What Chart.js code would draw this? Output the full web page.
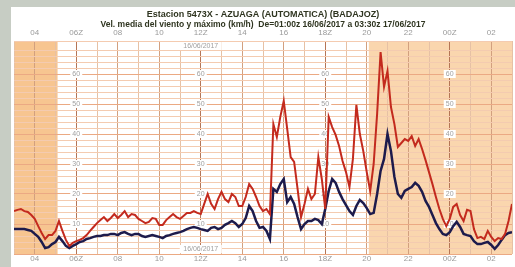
<!DOCTYPE html>
<html>
<head>
<meta charset="utf-8">
<script src="https://cdn.jsdelivr.net/npm/chart.js@4.4.1/dist/chart.umd.min.js"></script>
<style>
  html, body { margin: 0; padding: 0; background: #c7cdc4; overflow: hidden; }
  #wrap { position: absolute; left: 11px; top: 7px; width: 504px; height: 260px; background: #fff; }
</style>
</head>
<body>
<div id="wrap"><canvas id="myChart"></canvas></div>
<script>
// muestras cada 10 min, desde las 03:00z del 16/06/2017
const startHour = 3;
const stepHours = 1 / 6;

// racha maxima (km/h)
const racha = [
    14.3, 14.7, 15, 14.3, 14, 13, 11.7, 9.3, 7, 5,
    6.3, 6.3, 7.7, 11, 7.7, 4.7, 2.7, 3.7, 4.3, 4.7,
    5.3, 6.3, 7.7, 9, 10.3, 11.3, 12.3, 11, 12, 13.3,
    12, 13, 14.3, 12.3, 13.3, 13, 11.7, 11, 10.3, 10.7,
    12, 11.7, 9.7, 9.7, 11.3, 12.3, 13.3, 12.3, 11.7, 12.7,
    13.7, 13.7, 14.3, 13.7, 13.3, 16.7, 20, 16.7, 15, 18.3,
    20.7, 18.3, 17.3, 20, 19, 16, 16, 19, 23.3, 21.7,
    19, 16, 14.3, 15, 13.3, 43.3, 39, 45.7, 51, 41.7,
    32.3, 30.7, 21.7, 12.3, 16.7, 21.7, 18.3, 20, 32.3, 25,
    15, 45.7, 42.3, 39.7, 36, 31, 27.3, 22.3, 31.7, 49.7,
    40, 34.3, 27.3, 21, 30, 46.7, 67.3, 55.7, 61, 49,
    43.3, 35.7, 37, 38.3, 37.7, 39.3, 36, 38.3, 35, 31.3,
    27.3, 23.3, 19, 15, 11.7, 9.3, 11.7, 15.7, 16.7, 13,
    11, 14.7, 14.3, 8.3, 5.3, 5.7, 5, 7.7, 5.7, 4.3,
    5.3, 5, 6.7, 11, 16.7
];

// velocidad media (km/h)
const media = [
    8.3, 8.3, 8.3, 8.3, 8, 7.7, 6.7, 5.7, 4, 2,
    2.3, 3.3, 4, 5.7, 4.3, 2.7, 2, 2.7, 3.3, 4,
    4.3, 5, 5.3, 5.7, 6, 6, 6.3, 6.3, 6.7, 6.7,
    6.3, 7, 7.3, 6.7, 6.3, 6.7, 6.7, 6, 5.7, 6,
    6.3, 6, 5.7, 5.3, 6, 6.3, 6.7, 7, 7.3, 7.7,
    8.3, 8.7, 9, 8.7, 8.3, 8, 7.7, 8.7, 9, 8.3,
    8.7, 9.7, 10.3, 11, 10.3, 9, 10, 12, 16, 14.3,
    11, 8.7, 9, 7.7, 5, 21.7, 20.7, 23.3, 25, 17.3,
    19, 16.7, 12.3, 8.3, 10, 11, 11, 11.7, 11.3, 10,
    15, 21, 25, 23.7, 20.7, 18.3, 16.3, 14.3, 13, 16,
    18, 17, 15.3, 13.3, 13.7, 20, 27.7, 31.7, 40, 34.3,
    25.7, 20, 18.7, 21, 21.7, 22.3, 23.7, 22.7, 20.7, 17.7,
    15.7, 13, 10.3, 8.3, 6.7, 6.3, 7.3, 9.3, 10.7, 9,
    6.7, 6.3, 6, 4.3, 3.3, 3.3, 3.7, 4, 3, 1.7,
    3, 4.7, 6.3, 7, 7.3
];

const hourTicks = [4, 6, 8, 10, 12, 14, 16, 18, 20, 22, 24, 26];
const hourLabels = ['04', '06Z', '08', '10', '12Z', '14', '16', '18Z', '20', '22', '00Z', '02'];
const zHours = [6, 12, 18, 24];
const speedLabels = [10, 20, 30, 40, 50, 60];
const nightSpans = [[3, 5.1, '#f7c590'], [20.1, 27, '#fad6ae']];
const dateHour = 12;
const dateText = '16/06/2017';

const toPoints = arr => arr.map((v, i) => ({ x: startHour + i * stepHours, y: v }));
const hourLabel = v => {
    const k = hourTicks.indexOf(v);
    return k >= 0 ? hourLabels[k] : '';
};

const noche = {
    id: 'noche',
    beforeDraw(chart) {
        const { ctx, chartArea: a, scales: { x } } = chart;
        ctx.save();
        nightSpans.forEach(([h0, h1, col]) => {
            const p0 = Math.max(a.left, x.getPixelForValue(h0));
            const p1 = Math.min(a.right, x.getPixelForValue(h1));
            ctx.fillStyle = col;
            ctx.fillRect(p0, a.top, p1 - p0, a.bottom - a.top);
        });
        ctx.restore();
    }
};

const etiquetas = {
    id: 'etiquetas',
    beforeDatasetsDraw(chart) {
        const { ctx, chartArea: a, scales: { x, y } } = chart;
        ctx.save();
        ctx.font = '7px "Liberation Sans", Arial, sans-serif';
        ctx.textAlign = 'center';
        ctx.textBaseline = 'middle';
        zHours.forEach(h => {
            const px = x.getPixelForValue(h);
            speedLabels.forEach(v => {
                const py = y.getPixelForValue(v);
                ctx.fillStyle = '#fff';
                ctx.fillRect(px - 6, py - 4, 12, 8);
                ctx.fillStyle = '#a0a0a0';
                ctx.fillText(String(v), px, py);
            });
        });
        const px = x.getPixelForValue(dateHour);
        [a.top + 5, a.bottom - 5].forEach(py => {
            ctx.fillStyle = '#fff';
            ctx.fillRect(px - 21, py - 4, 42, 8);
            ctx.fillStyle = '#a0a0a0';
            ctx.fillText(dateText, px, py);
        });
        ctx.restore();
    }
};

const tickFont = { family: '"Liberation Sans", Arial, sans-serif', size: 8 };

new Chart(document.getElementById('myChart'), {
    type: 'line',
    data: {
        datasets: [{
            label: 'Racha',
            data: toPoints(racha),
            borderColor: '#c32a1e',
            borderWidth: 2,
            pointRadius: 0,
            tension: 0
        }, {
            label: 'Media',
            data: toPoints(media),
            borderColor: '#1d1b4c',
            borderWidth: 2.5,
            pointRadius: 0,
            tension: 0
        }]
    },
    options: {
        responsive: true,
        maintainAspectRatio: false,
        animation: false,
        layout: { padding: 0 },
        plugins: {
            legend: { display: false },
            tooltip: { enabled: false },
            title: {
                display: true,
                text: 'Estacion 5473X - AZUAGA (AUTOMATICA) (BADAJOZ)',
                color: '#2f3520',
                font: { family: '"Liberation Sans", Arial, sans-serif', size: 9, weight: 'bold', lineHeight: 1 },
                padding: { top: 3, bottom: 1 }
            },
            subtitle: {
                display: true,
                text: 'Vel. media del viento y máximo (km/h)  De=01:00z 16/06/2017 a 03:30z 17/06/2017',
                color: '#2f3520',
                font: { family: '"Liberation Sans", Arial, sans-serif', size: 8.5, weight: 'bold', lineHeight: 1 },
                padding: { top: 0, bottom: 0 }
            }
        },
        scales: {
            x: {
                type: 'linear',
                position: 'bottom',
                min: 3,
                max: 27,
                border: { display: false },
                afterFit: s => { s.height = 13; },
                grid: {
                    drawTicks: false,
                    color: c => zHours.includes(c.tick.value) ? '#b57556'
                        : (c.tick.value % 2 === 0 ? '#d2a07f' : '#e6c1a5')
                },
                ticks: {
                    stepSize: 1,
                    autoSkip: false,
                    maxRotation: 0,
                    padding: 0,
                    color: '#9a9a9a',
                    font: tickFont,
                    callback: v => hourLabel(v)
                }
            },
            x2: {
                type: 'linear',
                position: 'top',
                min: 3,
                max: 27,
                border: { display: false },
                afterFit: s => { s.height = 12.5; },
                grid: { display: false, drawTicks: false },
                ticks: {
                    stepSize: 1,
                    autoSkip: false,
                    maxRotation: 0,
                    padding: 3,
                    color: '#9a9a9a',
                    font: tickFont,
                    callback: v => hourLabel(v)
                }
            },
            y: {
                min: 0,
                max: 71,
                border: { display: false },
                grid: {
                    drawTicks: false,
                    color: c => c.tick.value % 10 === 0 ? '#eba983' : '#f4cbb0'
                },
                ticks: { display: false, stepSize: 2 }
            }
        }
    },
    plugins: [noche, etiquetas]
});
</script>
</body>
</html>
